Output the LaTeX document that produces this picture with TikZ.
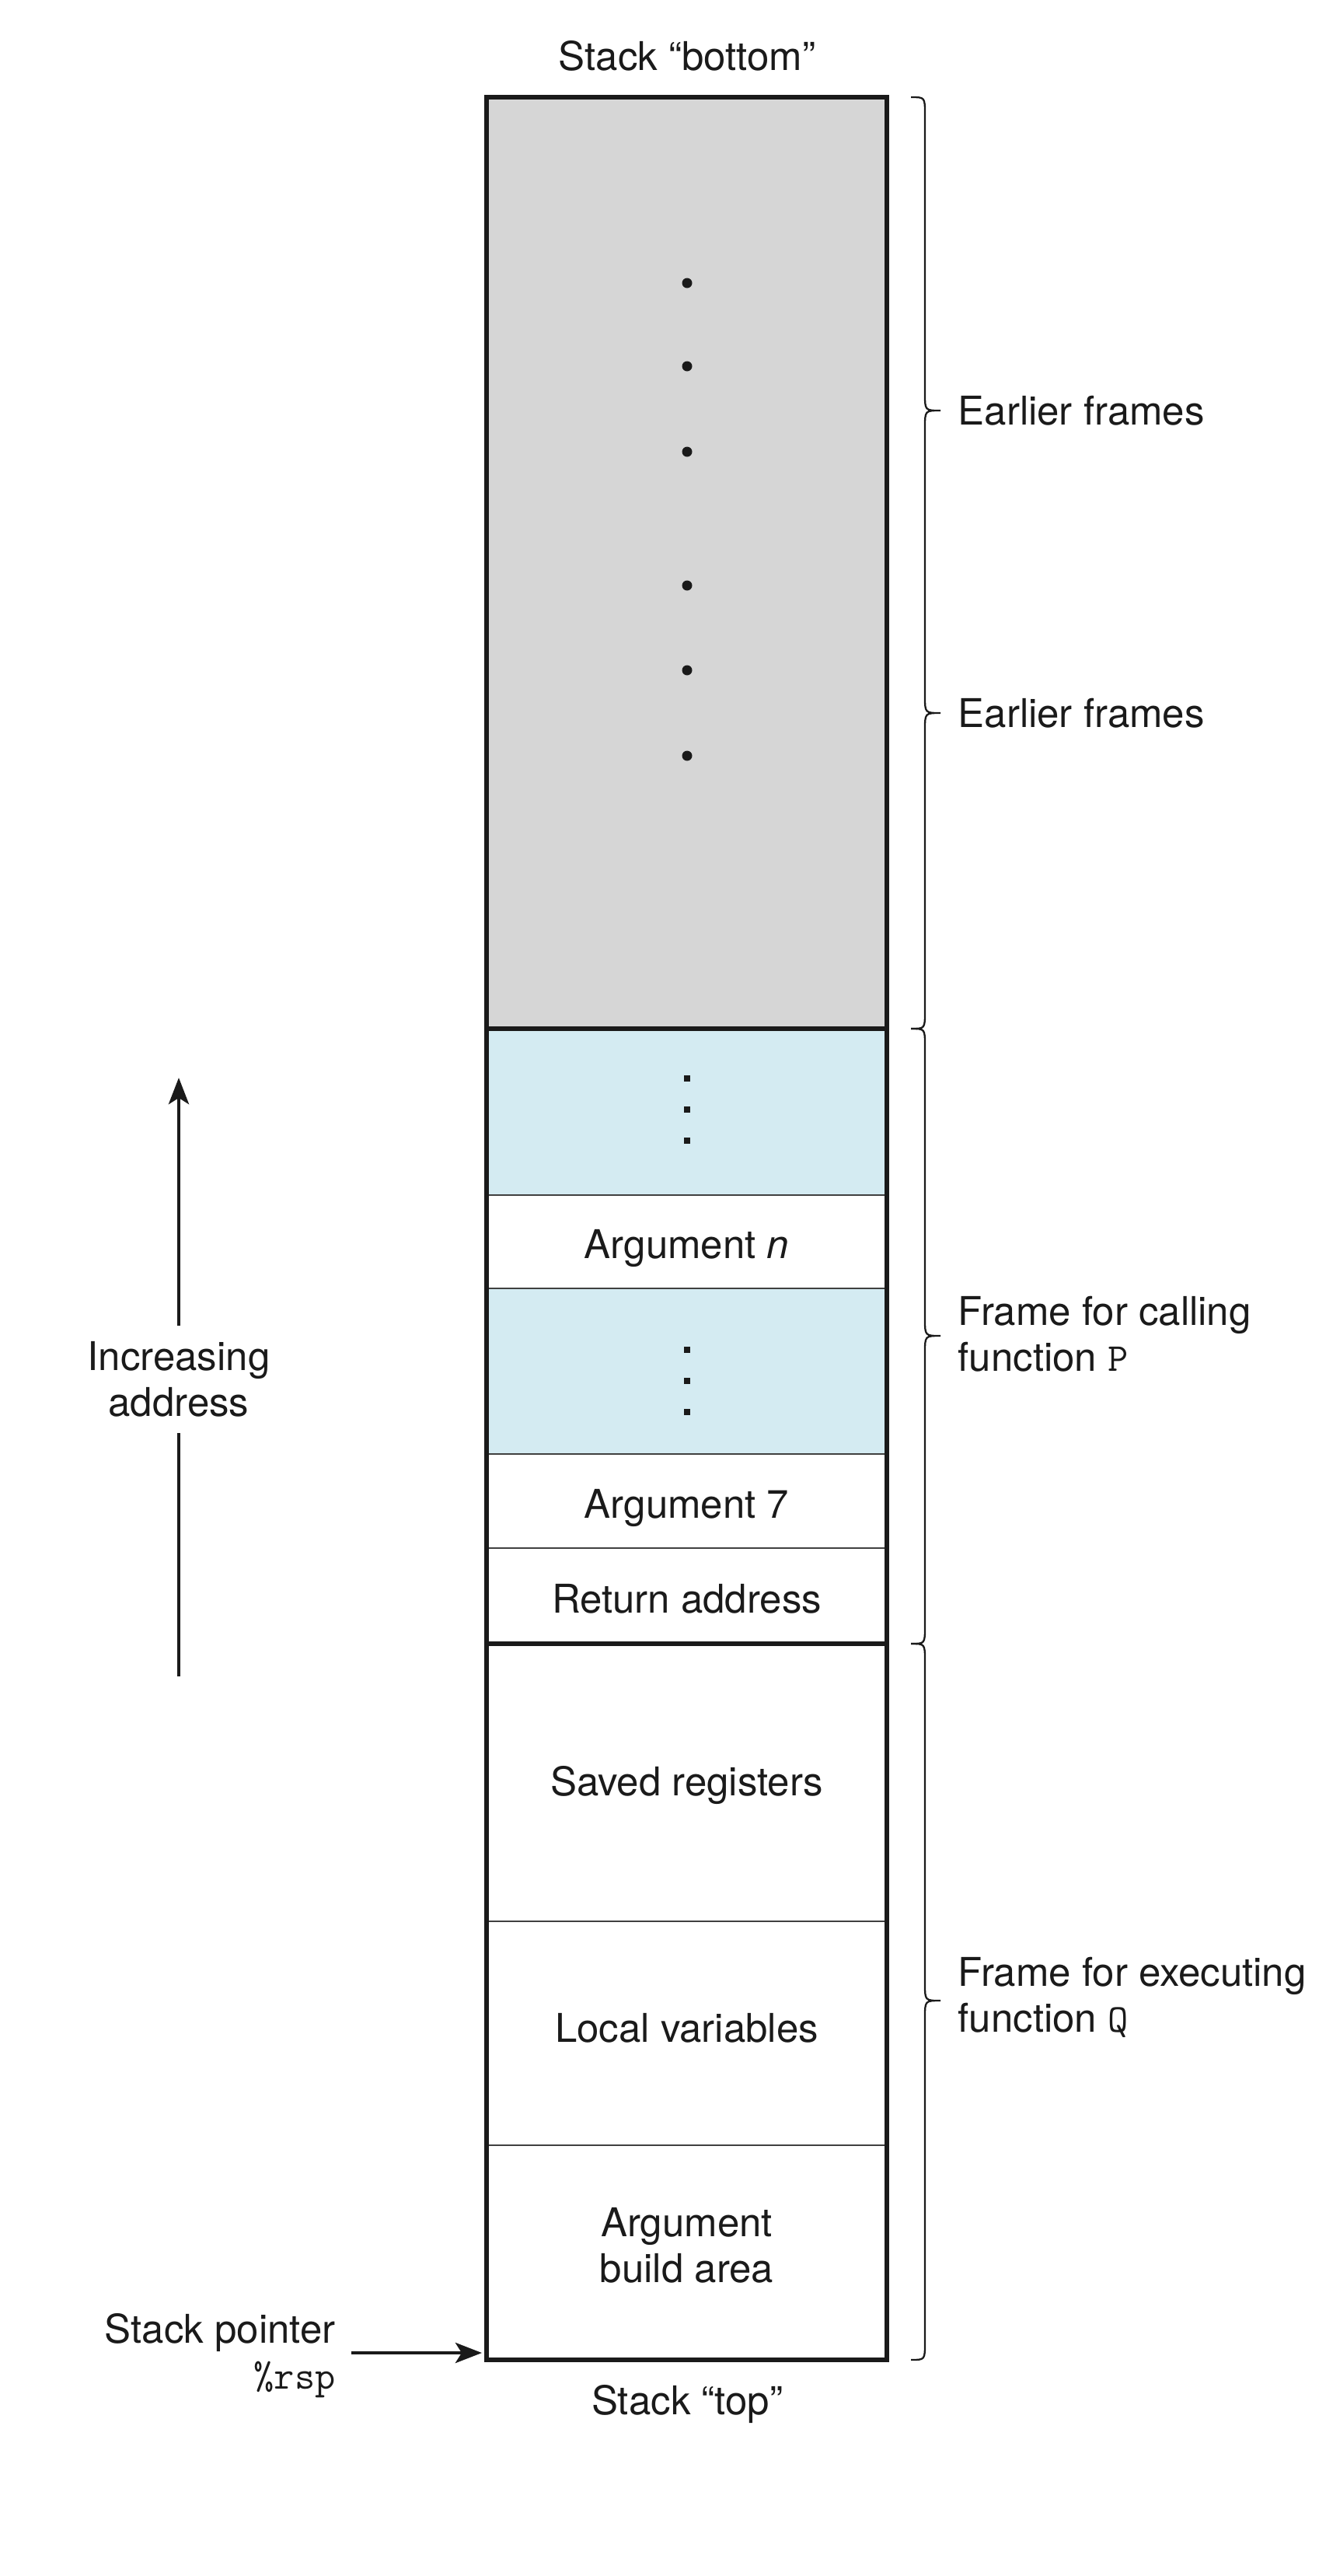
\documentclass[tikz,border=0pt]{standalone}
\usepackage{fontspec}
\setmainfont{TeX Gyre Heros}
\usetikzlibrary{arrows.meta,calc}
\definecolor{frameGray}{RGB}{214,214,214}
\definecolor{argBlue}{RGB}{212,235,242}
\definecolor{inkBlack}{RGB}{26,26,26}
\newcommand{\figFont}{\fontsize{14.5}{16.8}\selectfont}
\pgfkeys{
 /stackSlot/.is family, /stackSlot,
 top/.estore in = \ssTop,
 bot/.estore in = \ssBot,
 fill/.estore in = \ssFill,
 default/.style = {top=0, bot=-1, fill=white}
}
\newcommand{\stackSlot}[2][]{
    \pgfkeys{/stackSlot, default, #1}%
    \fill[\ssFill] (6.26,\ssTop) rectangle (11.41,\ssBot);
    \coordinate (#2) at (8.835,{(\ssTop+\ssBot)/2});
}
% brace: top, list of tips, bottom
\newcommand{\frameBrace}[3]{
    \draw[brace] (11.72,#1) .. controls (11.90,#1) .. (11.90,{#1-0.22})
      \foreach \t in {#2} {-- (11.90,{\t+0.22}) .. controls (11.90,\t) .. (12.10,\t)
        .. controls (11.90,\t) .. (11.90,{\t-0.22})}
      -- (11.90,{#3+0.22}) .. controls (11.90,#3) .. (11.72,#3);
}
\tikzset{
 slotlabel/.style={font=\figFont, text=inkBlack, align=center},
 slottext/.style={slotlabel, text depth=0pt, yshift=-0.03cm},
 sidelabel/.style={font=\figFont, text=inkBlack, align=left, anchor=west, inner sep=0pt},
 sepThin/.style={line width=0.6pt, draw=black!75},
 sepThick/.style={line width=1.7pt, draw=inkBlack},
 brace/.style={line width=0.65pt, draw=inkBlack},
 addrArrow/.style={line width=1.4pt, draw=inkBlack,
   -{Stealth[length=0.34cm, width=0.26cm, inset=0.08cm]}}
}

\begin{document}
\begin{tikzpicture}
    \useasboundingbox (0,0) rectangle (17.06,-33.13);

    \stackSlot[top=-1.25, bot=-13.23, fill=frameGray]{earlier}
    \stackSlot[top=-13.23, bot=-15.37, fill=argBlue]{blueA}
    \stackSlot[top=-15.37, bot=-16.57]{argN}
    \stackSlot[top=-16.57, bot=-18.70, fill=argBlue]{blueB}
    \stackSlot[top=-18.70, bot=-19.91]{argSeven}
    \stackSlot[top=-19.91, bot=-21.14]{retAddr}
    \stackSlot[top=-21.14, bot=-24.71]{savedRegs}
    \stackSlot[top=-24.71, bot=-27.59]{localVars}
    \stackSlot[top=-27.59, bot=-30.35]{argBuild}

    \foreach \y in {-15.37,-16.57,-18.70,-19.91,-24.71,-27.59}
        \draw[sepThin] (6.26,\y) -- (11.41,\y);
    \foreach \y in {-13.23,-21.14}
        \draw[sepThick] (6.26,\y) -- (11.41,\y);
    \draw[line width=1.7pt, draw=inkBlack] (6.26,-1.25) rectangle (11.41,-30.35);

    % dots
    \foreach \y in {-3.64,-4.71,-5.81,-7.53,-8.62,-9.72}
        \fill[inkBlack] (8.84,\y) circle (0.065);
    \foreach \c/\s in {blueA/0.03,blueB/-0.12}
        \foreach \d in {-0.4,0,0.4}
            \fill[inkBlack] ($(\c)+(-0.04,\d+\s-0.04)$) rectangle ++(0.08,0.08);

    \node[slottext] (argNText) at (argN) {Argument \textit{n}};
    \node[slottext] (argSevenText) at (argSeven) {Argument 7};
    \node[slottext] (retAddrText) at (retAddr) {Return address};
    \node[slottext, yshift=0.05cm] (savedRegsText) at (savedRegs) {Saved registers};
    \node[slottext, yshift=0.1cm] (localVarsText) at (localVars) {Local variables};
    \node[slotlabel, yshift=0.09cm] (argBuildText) at (argBuild) {Argument\\build area};

    \node[slotlabel] (stackBottom) at (8.84,-0.72) {Stack “bottom”};
    \node[slotlabel] (stackTop) at (8.84,-30.92) {Stack “top”};

    \frameBrace{-1.25}{-5.28,-9.17}{-13.23}
    \frameBrace{-13.23}{-17.18}{-21.14}
    \frameBrace{-21.14}{-25.73}{-30.35}
    \node[sidelabel] (earlierA) at (12.32,-5.28) {Earlier frames};
    \node[sidelabel] (earlierB) at (12.32,-9.17) {Earlier frames};
    \node[sidelabel] (frameP) at (12.32,-17.16) {Frame for calling\\function \texttt{P}};
    \node[sidelabel] (frameQ) at (12.32,-25.69) {Frame for executing\\function \texttt{Q}};

    % address direction
    \node[slotlabel, inner ysep=0.2cm] (incAddr) at (2.30,-17.74) {Increasing\\address};
    \coordinate (addrLow) at (2.30,-21.56);
    \coordinate (addrHigh) at (2.30,-13.86);
    \draw[line width=1.4pt, draw=inkBlack] (addrLow) -- (incAddr.south);
    \draw[addrArrow] (incAddr.north) -- (addrHigh);

    \node[slotlabel, align=right, anchor=east] (stackPtr) at (4.44,-30.30) {Stack pointer\\\texttt{\%rsp}};
    \coordinate (rspTip) at (6.20,-30.26);
    \draw[addrArrow] ($(stackPtr.east |- rspTip)+(0.08,0)$) -- (rspTip);
\end{tikzpicture}
\end{document}
